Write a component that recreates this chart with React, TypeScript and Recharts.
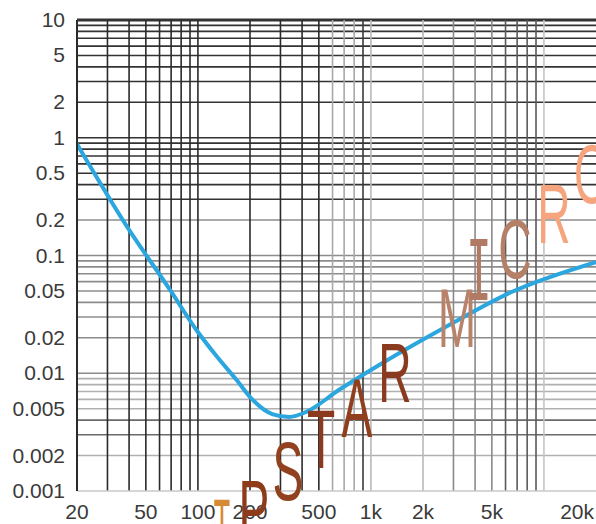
import React from 'react';
import { Line, LineChart, ReferenceLine, XAxis, YAxis } from 'recharts';

// curve (Hz -> value)
const freqs = [20, 39, 69, 98, 128, 167, 206, 269, 337, 423, 652, 1110, 2700, 6500, 20000];
const levels = [0.885, 0.175, 0.051, 0.0233, 0.014, 0.0088, 0.006, 0.0045, 0.00425, 0.0047, 0.0072, 0.0117, 0.0247, 0.049, 0.088];

const xTickValues = [20, 50, 100, 200, 500, 1000, 2000, 5000, 20000];
const xTickLabels = ['20', '50', '100', '200', '500', '1k', '2k', '5k', '20k'];
const yTickValues = [10, 5, 2, 1, 0.5, 0.2, 0.1, 0.05, 0.02, 0.01, 0.005, 0.002, 0.001];
const yTickLabels = ['10', '5', '2', '1', '0.5', '0.2', '0.1', '0.05', '0.02', '0.01', '0.005', '0.002', '0.001'];

const xGrid = [30, 40, 50, 60, 70, 80, 90, 100, 200, 300, 400, 500, 600, 700, 800, 900, 1000, 2000, 3000, 4000, 5000, 6000, 7000, 8000, 9000, 10000];
const yGrid = [
  0.002, 0.003, 0.004, 0.005, 0.006, 0.007, 0.008, 0.009,
  0.01, 0.02, 0.03, 0.04, 0.05, 0.06, 0.07, 0.08, 0.09,
  0.1, 0.2, 0.3, 0.4, 0.5, 0.6, 0.7, 0.8, 0.9,
  1, 2, 3, 4, 5, 6, 7, 8, 9, 10,
];

const watermark = ['T', 'P', 'S', 'T', 'A', 'R', 'M', 'I', 'C', 'R', 'O'];

const data = freqs.map((f, i) => ({ f, v: levels[i] }));

const FONT = '"Liberation Sans", Arial, sans-serif';

const xLineColor = (v: number) => {
  if (v <= 500) return '#2a2a2a';
  if (v < 900) return '#a8a8a8';
  if (v === 900) return '#3a3a3a';
  if (v < 3000) return '#b8b8b8';
  if (v < 6000) return '#8a8a8a';
  if (v < 10000) return '#5a5a5a';
  return '#c4c4c4';
};

const yLineColor = (v: number) => {
  if (v >= 0.3) return '#333333';
  if (v >= 0.01) return '#8c8c8c';
  if (v === 0.003 || v === 0.004) return '#6a6a6a';
  return '#b0b0b0';
};

const XTick = (props: any) => {
  const { x, y, payload } = props;
  const idx = xTickValues.indexOf(payload.value);
  if (idx < 0) return null;
  const last = idx === xTickValues.length - 1;
  return (
    <text x={last ? 594 : x} y={y + 20} textAnchor={last ? 'end' : 'middle'} fontSize={21} fill="#3a3a3a" fontFamily={FONT}>
      {xTickLabels[idx]}
    </text>
  );
};

const YTick = (props: any) => {
  const { x, y, payload } = props;
  const idx = yTickValues.findIndex(t => Math.abs(t - payload.value) < 1e-9);
  if (idx < 0) return null;
  return (
    <text x={x - 4} y={y + 7} textAnchor="end" fontSize={21} fill="#3a3a3a" fontFamily={FONT}>
      {yTickLabels[idx]}
    </text>
  );
};

// letter placement for the TPSTARMICRO overlay: [centerX, baseline, scaleX, colour, font]
const markStyle: [number, number, number, string, string][] = [
  [222, 557, 0.32, '#d68a36', FONT],
  [254, 538, 0.55, '#8e3b1c', FONT],
  [288, 500, 0.55, '#92411e', FONT],
  [321, 468, 0.55, '#8b3a1d', FONT],
  [357, 437, 0.55, '#8f3f1e', FONT],
  [395, 402, 0.55, '#8a3a1e', FONT],
  [457, 347, 0.55, '#b9836b', FONT],
  [479, 300, 0.5, '#b07a64', '"DejaVu Sans Mono", monospace'],
  [515, 278, 0.55, '#b58068', FONT],
  [554, 243, 0.55, '#f6a47e', FONT],
  [592, 203, 0.55, '#f6a47e', FONT],
];

export default function App() {
  return (
    <div style={{ position: 'absolute', left: 0, top: 0, width: 596, height: 524, background: '#fff' }}>
      <LineChart width={596} height={524} data={data} margin={{ top: 20, right: 0, bottom: 0, left: 0 }}>
        <XAxis
          dataKey="f"
          type="number"
          scale="log"
          domain={[20, 20000]}
          ticks={[20, ...xGrid, 20000]}
          tick={<XTick />}
          tickLine={false}
          axisLine={{ stroke: '#c8c8c8', strokeWidth: 1.5 }}
          height={33}
          interval={0}
          allowDataOverflow
        />
        <YAxis
          type="number"
          scale="log"
          domain={[0.001, 10]}
          ticks={yTickValues}
          tick={<YTick />}
          tickLine={false}
          axisLine={{ stroke: '#2a2a2a', strokeWidth: 2 }}
          width={77}
          interval={0}
          allowDataOverflow
        />
        {yGrid.map(v => (
          <ReferenceLine key={`y-${v}`} y={v} stroke={yLineColor(v)} strokeWidth={v === 10 ? 3 : 1.6} />
        ))}
        {xGrid.map(v => (
          <ReferenceLine key={`x-${v}`} x={v} stroke={xLineColor(v)} strokeWidth={1.6} />
        ))}
        <Line
          dataKey="v"
          type="monotone"
          stroke="#2ba6de"
          strokeWidth={4}
          dot={false}
          isAnimationActive={false}
        />
      </LineChart>
      <svg width={596} height={524} style={{ position: 'absolute', left: 0, top: 0, pointerEvents: 'none' }}>
        {watermark.map((ch, i) => {
          const [cx, base, sx, color, font] = markStyle[i];
          return (
            <text
              key={i}
              transform={`translate(${cx},${base}) scale(${sx},1)`}
              textAnchor="middle"
              fontSize={84}
              fill={color}
              fontFamily={font}
            >
              {ch}
            </text>
          );
        })}
      </svg>
    </div>
  );
}
